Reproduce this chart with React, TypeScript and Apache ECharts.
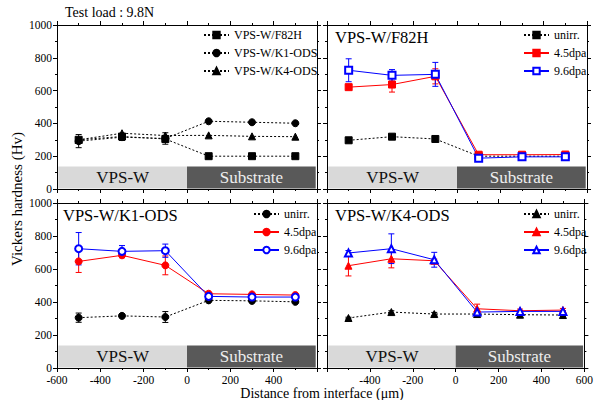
import React, { useEffect, useRef } from "react";
import * as echarts from "echarts";

const X = [-500, -300, -100, 100, 300, 500];

// Top-left: comparison of unirradiated materials
const tlF82H = [300, 320, 305, 200, 200, 200];
const tlK1 = [292, 316, 308, 413, 407, 401];
const tlK4 = [300, 340, 326, 327, 321, 319];
const tlK1Err = [40, 20, 35, 0, 0, 0];

// Top-right: VPS-W/F82H
const trUnirr = [297, 319, 305, 200, 200, 200];
const trRed = [621, 637, 687, 209, 209, 210];
const trRedErr = [10, 46, 46, 8, 8, 8];
const trBlue = [724, 693, 699, 188, 196, 196];
const trBlueErr = [70, 35, 73, 5, 5, 5];

// Bottom-left: VPS-W/K1-ODS
const blUnirr = [305, 316, 309, 410, 407, 401];
const blUnirrErr = [28, 8, 33, 8, 8, 5];
const blRed = [646, 683, 622, 450, 446, 442];
const blRedErr = [67, 15, 57, 8, 6, 6];
const blBlue = [723, 707, 711, 434, 430, 430];
const blBlueErr = [98, 35, 40, 5, 5, 5];

// Bottom-right: VPS-W/K4-ODS
const brUnirr = [303, 339, 327, 327, 323, 321];
const brUnirrErr = [5, 8, 10, 5, 5, 5];
const brRed = [620, 662, 650, 359, 347, 351];
const brRedErr = [62, 55, 10, 28, 10, 10];
const brBlue = [697, 723, 656, 339, 343, 343];
const brBlueErr = [15, 90, 45, 8, 5, 5];

const BAND_TOP = 137;
const FONT = "Liberation Serif";

const GRIDS = [
  { left: 57, top: 25, width: 260, height: 164 },
  { left: 327, top: 25, width: 260, height: 164 },
  { left: 57, top: 203, width: 260, height: 165 },
  { left: 327, top: 203, width: 260, height: 165 },
];

export default function App() {
  const ref = useRef<HTMLDivElement>(null);
  useEffect(() => {
    if (!ref.current) return;
    const chart = echarts.init(ref.current, null, { renderer: "svg" });

    const xAxes: any[] = [];
    const yAxes: any[] = [];
    const axisLine = { show: true, onZero: false, lineStyle: { color: "#000", width: 1 } };
    const tick = { show: true, length: 4, lineStyle: { color: "#000" } };
    const minor = { show: true, splitNumber: 2, length: 2, lineStyle: { color: "#000" } };
    const fmt = (v: number) => String(v);
    GRIDS.forEach((_, i) => {
      const showX = i >= 2;
      xAxes.push({
        type: "value", gridIndex: i, position: "bottom",
        min: -600, max: 600, interval: 200,
        axisLine, splitLine: { show: false }, axisTick: tick, minorTick: minor,
        axisLabel: {
          show: showX, color: "#000", fontFamily: FONT, fontSize: 11.5, margin: 6, formatter: fmt,
          showMinLabel: i === 2, showMaxLabel: i === 3,
        },
      });
      const showY = i === 0 || i === 2;
      yAxes.push({
        type: "value", gridIndex: i, position: "left",
        min: 0, max: 1000, interval: 200,
        axisLine, splitLine: { show: false }, axisTick: tick, minorTick: minor,
        axisLabel: { show: showY, color: "#000", fontFamily: FONT, fontSize: 11.5, margin: 5, formatter: fmt },
      });
    });
    GRIDS.forEach((_, i) => {
      xAxes.push({
        type: "value", gridIndex: i, position: "top",
        min: -600, max: 600, interval: 200,
        axisLine, splitLine: { show: false }, axisTick: tick, minorTick: minor,
        axisLabel: { show: false },
      });
      yAxes.push({
        type: "value", gridIndex: i, position: "right",
        min: 0, max: 1000, interval: 200,
        axisLine, splitLine: { show: false }, axisTick: tick, minorTick: minor,
        axisLabel: { show: false },
      });
    });

    const bandSeries = (g: number) => ({
      type: "line", xAxisIndex: g, yAxisIndex: g, data: [], silent: true, z: 0,
      markArea: {
        silent: true,
        label: { show: true, position: "inside", fontFamily: FONT, fontSize: 17 },
        data: [
          [
            { xAxis: -594, yAxis: 3, itemStyle: { color: "#d9d9d9" },
              label: { show: true, position: "inside", formatter: "VPS-W", color: "#111", fontFamily: FONT, fontSize: 17 } },
            { xAxis: 0, yAxis: BAND_TOP },
          ],
          [
            { xAxis: 0, yAxis: 3, itemStyle: { color: "#595959" },
              label: { show: true, position: "inside", formatter: "Substrate", color: "#eeeeee", fontFamily: FONT, fontSize: 17 } },
            { xAxis: 594, yAxis: BAND_TOP },
          ],
        ],
      },
    });

    const lineSeries = (name: string, g: number, vals: number[], color: string, symbol: string, dotted: boolean) => ({
      name, type: "line", xAxisIndex: g, yAxisIndex: g,
      data: X.map((x, i) => [x, vals[i]]),
      symbol, symbolSize: 7, z: 3,
      itemStyle: { color, borderColor: color, borderWidth: 1 },
      lineStyle: { color, width: 1, type: dotted ? [2, 2] : "solid" },
    });

    const errSeries = (g: number, vals: number[], errs: number[], color: string) => ({
      type: "custom", xAxisIndex: g, yAxisIndex: g, silent: true, z: 2,
      data: X.map((x, i) => [x, vals[i] - errs[i], vals[i] + errs[i]]),
      encode: { x: 0, y: [1, 2] },
      renderItem: (params: any, api: any) => {
        const x = api.value(0);
        const lo = api.coord([x, api.value(1)]);
        const hi = api.coord([x, api.value(2)]);
        const st = { stroke: color, lineWidth: 1 };
        return {
          type: "group",
          children: [
            { type: "line", shape: { x1: lo[0], y1: lo[1], x2: hi[0], y2: hi[1] }, style: st },
            { type: "line", shape: { x1: lo[0] - 3, y1: lo[1], x2: lo[0] + 3, y2: lo[1] }, style: st },
            { type: "line", shape: { x1: hi[0] - 3, y1: hi[1], x2: hi[0] + 3, y2: hi[1] }, style: st },
          ],
        };
      },
    });

    const RED = "#ff0000";
    const BLUE = "#0000ff";
    const BLACK = "#000000";

    const series: any[] = [
      bandSeries(0), bandSeries(1), bandSeries(2), bandSeries(3),
      // TL
      errSeries(0, tlK1, tlK1Err, BLACK),
      lineSeries("VPS-W/F82H", 0, tlF82H, BLACK, "rect", true),
      lineSeries("VPS-W/K1-ODS", 0, tlK1, BLACK, "circle", true),
      lineSeries("VPS-W/K4-ODS", 0, tlK4, BLACK, "triangle", true),
      // TR
      errSeries(1, trRed, trRedErr, RED),
      errSeries(1, trBlue, trBlueErr, BLUE),
      lineSeries("unirr.|1", 1, trUnirr, BLACK, "rect", true),
      lineSeries("4.5dpa|1", 1, trRed, RED, "rect", false),
      lineSeries("9.6dpa|1", 1, trBlue, BLUE, "emptyRect", false),
      // BL
      errSeries(2, blUnirr, blUnirrErr, BLACK),
      errSeries(2, blRed, blRedErr, RED),
      errSeries(2, blBlue, blBlueErr, BLUE),
      lineSeries("unirr.|2", 2, blUnirr, BLACK, "circle", true),
      lineSeries("4.5dpa|2", 2, blRed, RED, "circle", false),
      lineSeries("9.6dpa|2", 2, blBlue, BLUE, "emptyCircle", false),
      // BR
      errSeries(3, brUnirr, brUnirrErr, BLACK),
      errSeries(3, brRed, brRedErr, RED),
      errSeries(3, brBlue, brBlueErr, BLUE),
      lineSeries("unirr.|3", 3, brUnirr, BLACK, "triangle", true),
      lineSeries("4.5dpa|3", 3, brRed, RED, "triangle", false),
      lineSeries("9.6dpa|3", 3, brBlue, BLUE, "emptyTriangle", false),
    ];

    const legendBase = {
      orient: "vertical", itemWidth: 25, itemHeight: 8, itemGap: 6,
      selectedMode: false, padding: 0,
      textStyle: { color: "#000", fontFamily: FONT, fontSize: 12 },
      formatter: (n: string) => n.split("|")[0],
    };

    chart.setOption({
      animation: false,
      backgroundColor: "#fff",
      textStyle: { fontFamily: FONT },
      grid: GRIDS.map((g) => ({ ...g, containLabel: false })),
      xAxis: xAxes,
      yAxis: yAxes,
      legend: [
        { ...legendBase, left: 203, top: 29, data: ["VPS-W/F82H", "VPS-W/K1-ODS", "VPS-W/K4-ODS"] },
        { ...legendBase, left: 523, top: 29, data: ["unirr.|1", "4.5dpa|1", "9.6dpa|1"] },
        { ...legendBase, left: 253, top: 208, data: ["unirr.|2", "4.5dpa|2", "9.6dpa|2"] },
        { ...legendBase, left: 523, top: 208, data: ["unirr.|3", "4.5dpa|3", "9.6dpa|3"] },
      ],
      graphic: [
        { type: "text", left: 65, top: 5, style: { text: "Test load : 9.8N", fill: "#000", fontFamily: FONT, fontSize: 14 } },
        { type: "text", left: 335, top: 29, style: { text: "VPS-W/F82H", fill: "#000", fontFamily: FONT, fontSize: 16.5 } },
        { type: "text", left: 63, top: 207, style: { text: "VPS-W/K1-ODS", fill: "#000", fontFamily: FONT, fontSize: 16.5 } },
        { type: "text", left: 335, top: 207, style: { text: "VPS-W/K4-ODS", fill: "#000", fontFamily: FONT, fontSize: 16.5 } },
        {
          type: "text", x: 17, y: 199, rotation: Math.PI / 2,
          style: { text: "Vickers hardness (Hv)", fill: "#000", fontFamily: FONT, fontSize: 15, align: "center", verticalAlign: "middle" },
        },
        {
          type: "text", x: 322, y: 393,
          style: { text: "Distance from interface (μm)", fill: "#000", fontFamily: FONT, fontSize: 14, align: "center", verticalAlign: "middle" },
        },
      ],
      series,
    });
    return () => chart.dispose();
  }, []);
  return <div ref={ref} style={{ width: 596, height: 400, position: "absolute", left: 0, top: 0 }} />;
}
